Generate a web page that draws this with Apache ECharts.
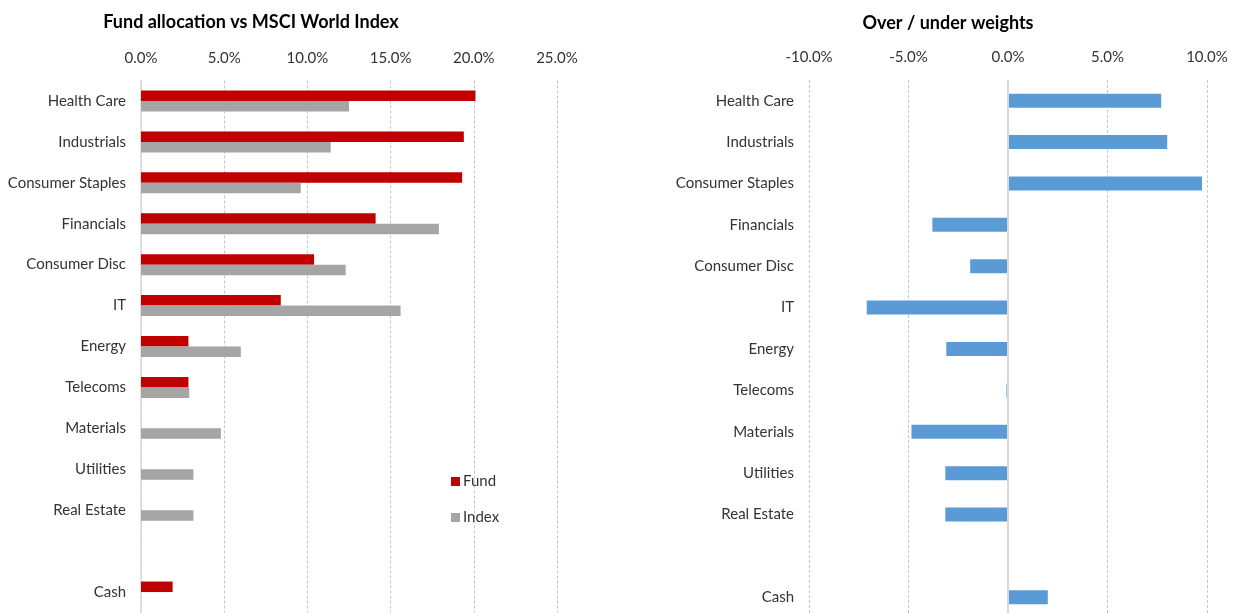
<!DOCTYPE html>
<html>
<head>
<meta charset="utf-8">
<script src="https://cdn.jsdelivr.net/npm/echarts@6/dist/echarts.min.js"></script>
<style>
html,body{margin:0;padding:0;background:#fff;}
#chart{width:1233px;height:613px;}
</style>
</head>
<body>
<div id="chart"></div>
<script>
// Categories (blank slot between Real Estate and Cash)
const categories = ['Health Care','Industrials','Consumer Staples','Financials','Consumer Disc','IT','Energy','Telecoms','Materials','Utilities','Real Estate','','Cash'];
// Fund allocation (%)
const fundValues  = [20.1, 19.4, 19.3, 14.1, 10.4, 8.4, 2.85, 2.85, null, null, null, null, 1.9];
// MSCI World Index weights (%)
const indexValues = [12.5, 11.4, 9.6, 17.9, 12.3, 15.6, 6.0, 2.9, 4.8, 3.15, 3.15, null, null];
// Over / under weights (%)
const overUnder   = [7.7, 8.0, 9.75, -3.8, -1.9, -7.1, -3.1, -0.08, -4.85, -3.15, -3.15, null, 2.0];
// Axis ticks
const leftTicks  = {min: 0, max: 25, interval: 5};
const rightTicks = {min: -10, max: 10, interval: 5};

const FONT = 'Lato';
const labelColor = '#333333';
const gridDash = {color: '#c6c6c6', type: [3, 2], width: 1};

const chart = echarts.init(document.getElementById('chart'), null, {renderer: 'canvas'});
chart.setOption({
  animation: false,
  backgroundColor: '#ffffff',
  textStyle: {fontFamily: FONT},
  title: [
    {text: 'Fund allocation vs MSCI World Index', left: 246, top: 8, textAlign: 'center',
     textStyle: {fontFamily: FONT, fontSize: 18, fontWeight: 'bold', color: '#000'}},
    {text: 'Over / under weights', left: 943, top: 9, textAlign: 'center',
     textStyle: {fontFamily: FONT, fontSize: 18, fontWeight: 'bold', color: '#000'}}
  ],
  legend: {
    data: ['Fund', 'Index'],
    orient: 'vertical',
    left: 446, top: 469,
    itemWidth: 9, itemHeight: 9, itemGap: 21,
    icon: 'rect',
    textStyle: {fontFamily: FONT, fontSize: 15, color: labelColor, padding: [0, 0, 0, -2]}
  },
  grid: [
    {left: 141, width: 416, top: 80.5, height: 532, outerBoundsMode: 'none'},
    {left: 809, width: 398, top: 80, height: 538, outerBoundsMode: 'none'}
  ],
  xAxis: [
    {type: 'value', gridIndex: 0, position: 'top', min: leftTicks.min, max: leftTicks.max, interval: leftTicks.interval,
     axisLine: {show: false}, axisTick: {show: false},
     axisLabel: {formatter: v => v.toFixed(1) + '%', fontFamily: FONT, fontSize: 15, color: labelColor, margin: 15},
     splitLine: {show: true, lineStyle: gridDash}},
    {type: 'value', gridIndex: 1, position: 'top', min: rightTicks.min, max: rightTicks.max, interval: rightTicks.interval,
     axisLine: {show: false}, axisTick: {show: false},
     axisLabel: {formatter: v => v.toFixed(1) + '%', fontFamily: FONT, fontSize: 15, color: labelColor, margin: 15},
     splitLine: {show: true, lineStyle: gridDash}}
  ],
  yAxis: [
    {type: 'category', gridIndex: 0, data: categories, inverse: true,
     axisLine: {show: true, onZero: false, lineStyle: {color: '#d9d9d9', width: 1.5}},
     axisTick: {show: false},
     axisLabel: {fontFamily: FONT, fontSize: 15, color: labelColor, margin: 15}},
    {type: 'category', gridIndex: 1, data: categories, inverse: true,
     axisLine: {show: false, onZero: false}, axisTick: {show: false},
     axisLabel: {fontFamily: FONT, fontSize: 15, color: labelColor, margin: 15}}
  ],
  series: [
    {name: 'Fund', type: 'bar', xAxisIndex: 0, yAxisIndex: 0, data: fundValues,
     barWidth: 10.5, barGap: '0%', itemStyle: {color: '#c00000'}},
    {name: 'Index', type: 'bar', xAxisIndex: 0, yAxisIndex: 0, data: indexValues,
     barWidth: 10.5, barGap: '0%', itemStyle: {color: '#a5a5a5'}},
    {name: 'Over / under', type: 'bar', xAxisIndex: 1, yAxisIndex: 1, data: overUnder,
     barWidth: 14, barMinHeight: 1, itemStyle: {color: '#5b9bd5'},
     markLine: {silent: true, symbol: 'none', label: {show: false},
       lineStyle: {color: '#d9d9d9', type: 'solid', width: 2},
       data: [{xAxis: 0}]}}
  ]
});
</script>
</body>
</html>
